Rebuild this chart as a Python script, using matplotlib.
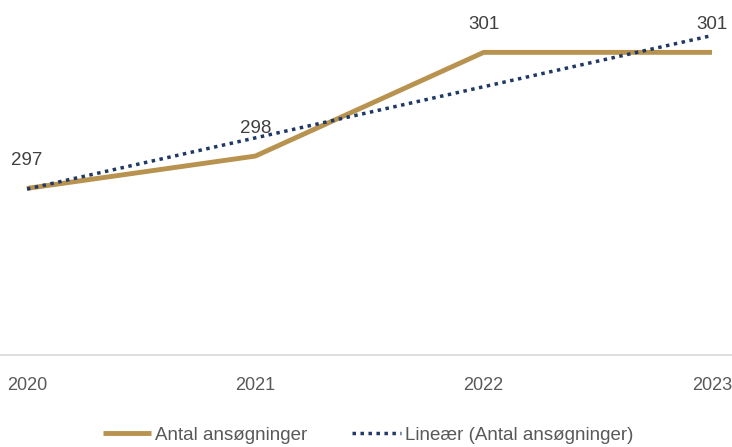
import matplotlib
matplotlib.use("Agg")
import matplotlib.pyplot as plt
import numpy as np

years = ["2020", "2021", "2022", "2023"]
applications = [296.9, 297.85, 300.9, 300.9]
labels = ["297", "298", "301", "301"]

GOLD = "#B8924F"
NAVY = "#1F3864"
GREY = "#595959"

plt.rcParams["font.family"] = ["Liberation Sans", "DejaVu Sans"]

fig = plt.figure(figsize=(7.32, 4.47), dpi=100)
ax = fig.add_axes([0, 1 - 355 / 447, 1, 355 / 447])

x = np.arange(len(years))
ax.plot(x, applications, color=GOLD, lw=3.5, solid_capstyle="butt",
        label="Antal ansøgninger", zorder=2)

# linear trendline
coef = np.polyfit(x, applications, 1)
ax.plot(x, np.polyval(coef, x), color=NAVY, lw=2.5, ls=(0, (1, 1.3)),
        label="Lineær (Antal ansøgninger)", zorder=3)

for xi, v, t in zip(x, applications, labels):
    ax.annotate(t, (xi, v), xytext=(0, 14), textcoords="offset points",
                ha="center", va="bottom", fontsize=13.5, color="#404040")

ax.set_xlim(-27 / 228.33, 3 + 20 / 228.33)
ax.set_ylim(292, 302.44)
ax.set_yticks([])
ax.set_xticks(x)
ax.set_xticklabels(years, fontsize=13, color=GREY)
ax.tick_params(axis="x", length=0, pad=16)
for s in ["top", "left", "right"]:
    ax.spines[s].set_visible(False)
ax.spines["bottom"].set_color("#D9D9D9")
ax.spines["bottom"].set_linewidth(1.2)

leg = fig.legend(loc="center", bbox_to_anchor=(368 / 732, 1 - 435 / 447), ncol=2,
                 frameon=False, fontsize=13.5, handlelength=2.6,
                 handletextpad=0.2, columnspacing=2.4)
for t in leg.get_texts():
    t.set_color(GREY)

fig.savefig("out.png", dpi=100)
